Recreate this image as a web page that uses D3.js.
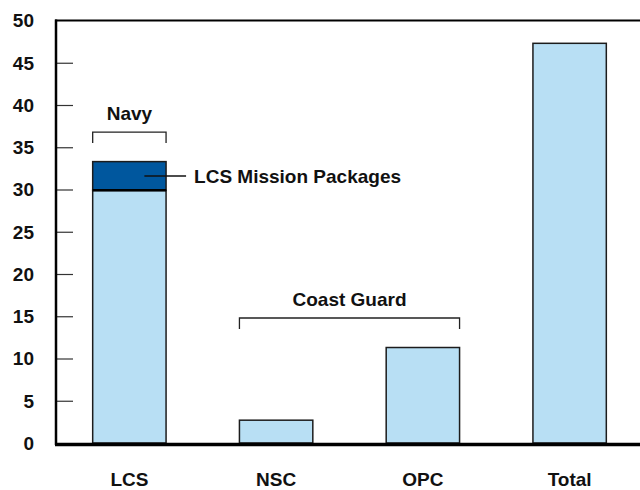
<!DOCTYPE html>
<html>
<head>
<meta charset="utf-8">
<script src="https://cdn.jsdelivr.net/npm/d3@7"></script>
<style>
  html, body { margin: 0; padding: 0; background: #fff; }
  svg { display: block; }
  text { font-family: "Liberation Sans", Arial, sans-serif; font-weight: bold; fill: #111; }
</style>
</head>
<body>
<svg id="chart" width="640" height="490"></svg>
<script>
// ---- data ----
const categories = ["LCS", "NSC", "OPC", "Total"];
const baseValues = [29.9, 2.7, 11.3, 47.3];        // light blue portion
const missionPackages = [3.4, 0, 0, 0];             // dark blue portion (LCS Mission Packages)
const yTicks = [0, 5, 10, 15, 20, 25, 30, 35, 40, 45, 50];
const groups = [
  { label: "Navy", members: ["LCS"] },
  { label: "Coast Guard", members: ["NSC", "OPC"] }
];
const calloutLabel = "LCS Mission Packages";

// ---- layout ----
const svg = d3.select("#chart");
const plotLeft = 56, plotRight = 643, plotTop = 20.5, plotBottom = 443;

const x = d3.scaleBand().domain(categories).range([plotLeft, plotRight])
  .paddingInner(0.5).paddingOuter(0.25);
const y = d3.scaleLinear().domain([0, 50]).range([plotBottom, plotTop]);

const lightBlue = "#b8dff4";
const darkBlue = "#00579e";
const stroke = "#1c1c1c";

const data = categories.map((c, i) => ({ cat: c, base: baseValues[i], pkg: missionPackages[i] }));

// bars - base
svg.append("g").selectAll("rect.base").data(data).join("rect")
  .attr("class", "base")
  .attr("x", d => x(d.cat))
  .attr("width", x.bandwidth())
  .attr("y", d => y(d.base))
  .attr("height", d => y(0) - y(d.base))
  .attr("fill", lightBlue)
  .attr("stroke", stroke)
  .attr("stroke-width", 1.5);

// bars - mission packages
svg.append("g").selectAll("rect.pkg").data(data.filter(d => d.pkg > 0)).join("rect")
  .attr("class", "pkg")
  .attr("x", d => x(d.cat))
  .attr("width", x.bandwidth())
  .attr("y", d => y(d.base + d.pkg))
  .attr("height", d => y(d.base) - y(d.base + d.pkg))
  .attr("fill", darkBlue)
  .attr("stroke", stroke)
  .attr("stroke-width", 1.5);
// thicker separator between segments
data.filter(d => d.pkg > 0).forEach(d => {
  svg.append("line")
    .attr("x1", x(d.cat)).attr("x2", x(d.cat) + x.bandwidth())
    .attr("y1", y(d.base)).attr("y2", y(d.base))
    .attr("stroke", "#000").attr("stroke-width", 2.5);
});

// y axis with inward ticks
const yAxis = d3.axisRight(y).tickValues(yTicks).tickSize(17).tickFormat("");
const yg = svg.append("g").attr("transform", `translate(${plotLeft},0)`).call(yAxis);
yg.select(".domain").remove();
yg.selectAll(".tick line").attr("stroke", "#333").attr("stroke-width", 1.2);
yg.selectAll(".tick").filter(d => d === 0 || d === 50).select("line").remove();

// tick labels
svg.append("g").selectAll("text").data(yTicks).join("text")
  .attr("x", 34)
  .attr("y", d => y(d))
  .attr("dy", "0.36em")
  .attr("text-anchor", "end")
  .attr("font-size", 19)
  .text(d => d);

// frame: left and top lines, baseline
svg.append("line").attr("x1", plotLeft).attr("x2", plotLeft).attr("y1", plotTop - 1).attr("y2", plotBottom + 2)
  .attr("stroke", "#000").attr("stroke-width", 2.5);
svg.append("line").attr("x1", plotLeft - 1).attr("x2", 640).attr("y1", plotTop).attr("y2", plotTop)
  .attr("stroke", "#000").attr("stroke-width", 2.2);
svg.append("line").attr("x1", plotLeft - 1).attr("x2", 640).attr("y1", plotBottom + 1.5).attr("y2", plotBottom + 1.5)
  .attr("stroke", "#000").attr("stroke-width", 3.5);

// x category labels
svg.append("g").selectAll("text").data(categories).join("text")
  .attr("x", d => x(d) + x.bandwidth() / 2)
  .attr("y", 486)
  .attr("text-anchor", "middle")
  .attr("font-size", 19)
  .text(d => d);

// group brackets
groups.forEach(g => {
  const x0 = x(g.members[0]);
  const x1 = x(g.members[g.members.length - 1]) + x.bandwidth();
  const maxTop = d3.min(g.members, m => {
    const d = data.find(e => e.cat === m);
    return y(d.base + d.pkg);
  });
  const by = maxTop - 29.5;
  svg.append("path")
    .attr("d", `M${x0},${by + 11}V${by}H${x1}V${by + 11}`)
    .attr("fill", "none").attr("stroke", "#222").attr("stroke-width", 1.3);
  svg.append("text")
    .attr("x", (x0 + x1) / 2)
    .attr("y", by - 12)
    .attr("text-anchor", "middle")
    .attr("font-size", 19)
    .text(g.label);
});

// callout for mission packages
data.filter(d => d.pkg > 0).forEach(d => {
  const cy = (y(d.base) + y(d.base + d.pkg)) / 2;
  const cx = x(d.cat) + x.bandwidth() / 2;
  const rx = x(d.cat) + x.bandwidth();
  svg.append("line")
    .attr("x1", cx + 15).attr("x2", rx + 20)
    .attr("y1", cy).attr("y2", cy)
    .attr("stroke", "#111").attr("stroke-width", 1.3);
  svg.append("text")
    .attr("x", rx + 28)
    .attr("y", cy)
    .attr("dy", "0.36em")
    .attr("font-size", 19)
    .text(calloutLabel);
});
</script>
</body>
</html>
